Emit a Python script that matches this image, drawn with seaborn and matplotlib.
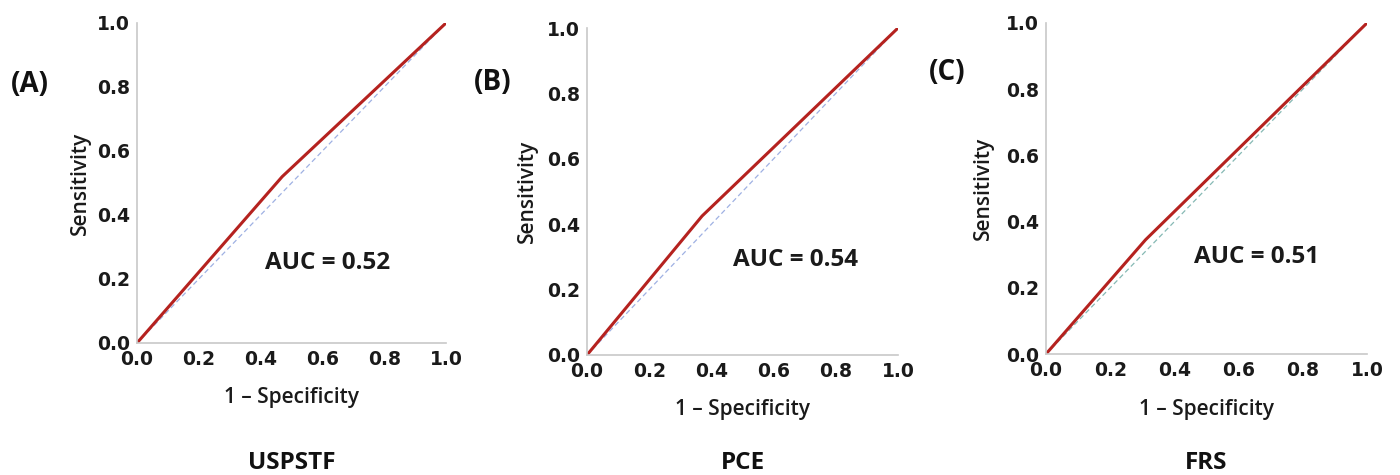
import matplotlib
matplotlib.use("Agg")
import matplotlib.pyplot as plt
import seaborn as sns
import pandas as pd

sns.set_theme(style="white")
plt.rcParams['font.family'] = ['DejaVu Sans']

# ---- data ----
panels = ["(A)", "(B)", "(C)"]
models = ["USPSTF", "PCE", "FRS"]
auc_labels = ["AUC = 0.52", "AUC = 0.54", "AUC = 0.51"]
fpr_uspstf = [0.0, 0.47, 1.0]
tpr_uspstf = [0.0, 0.52, 1.0]
fpr_pce = [0.0, 0.37, 1.0]
tpr_pce = [0.0, 0.425, 1.0]
fpr_frs = [0.0, 0.31, 1.0]
tpr_frs = [0.0, 0.345, 1.0]
ref_line = [0.0, 1.0]
ticks = [0.0, 0.2, 0.4, 0.6, 0.8, 1.0]
tick_labels = ["0.0", "0.2", "0.4", "0.6", "0.8", "1.0"]

curves = [(fpr_uspstf, tpr_uspstf), (fpr_pce, tpr_pce), (fpr_frs, tpr_frs)]

# ---- layout ----
W, H = 1400, 475
fig = plt.figure(figsize=(14, 4.75), dpi=100)
ax_px = [(137, 23, 446, 343), (587, 28, 898, 355), (1046, 23, 1367, 354)]
diag_colors = ["#9fb1e3", "#9fb1e3", "#86b9b4"]
auc_pos = [(0.617, 0.25), (0.67, 0.29), (0.657, 0.293)]
panel_pos = [(11, 84), (474, 82), (929, 72)]
title_y = 463
xlabel_y = [397, 410, 410]
ylabel_x = [80, 527, 983]

for i in range(3):
    l, t, r, b = ax_px[i]
    ax = fig.add_axes([l / W, 1 - b / H, (r - l) / W, (b - t) / H])
    fx, ty = curves[i]
    sns.lineplot(x=ref_line, y=ref_line, ax=ax, color=diag_colors[i],
                 linewidth=0.9, linestyle=(0, (4, 2.5)), estimator=None, sort=False)
    sns.lineplot(x=fx, y=ty, ax=ax, color="#b5221f", linewidth=2.2,
                 estimator=None, sort=False)
    ax.set_xlim(0, 1)
    ax.set_ylim(0, 1)
    ax.set_xticks(ticks)
    ax.set_yticks(ticks)
    ax.set_xticklabels(tick_labels, fontsize=13.5, fontweight="bold", color="#1a1a1a")
    ax.set_yticklabels(tick_labels, fontsize=13.5, fontweight="bold", color="#1a1a1a")
    ax.tick_params(axis="both", length=0)
    ax.tick_params(axis="x", pad=5)
    ax.tick_params(axis="y", pad=5)
    for s in ["top", "right"]:
        ax.spines[s].set_visible(False)
    for s in ["left", "bottom"]:
        ax.spines[s].set_color("#c8c8c8")
        ax.spines[s].set_linewidth(1.2)
    ax.set_xlabel("")
    ax.set_ylabel("")
    ax.text(auc_pos[i][0], auc_pos[i][1], auc_labels[i], transform=ax.transAxes,
            ha="center", va="center", fontsize=17.5, fontweight="bold",
            family="Open Sans", color="#1a1a1a")
    cx = (l + r) / 2
    fig.text(cx / W, 1 - xlabel_y[i] / H, "1 \u2013 Specificity", ha="center", va="center",
             fontsize=15, color="#1a1a1a", family="Open Sans", fontweight="semibold")
    fig.text(ylabel_x[i] / W, 1 - ((t + b) / 2) / H, "Sensitivity", ha="center", va="center",
             rotation=90, fontsize=15, color="#1a1a1a", family="Open Sans", fontweight="semibold")
    fig.text(panel_pos[i][0] / W, 1 - panel_pos[i][1] / H, panels[i], ha="left", va="center",
             fontsize=20, fontweight="bold", family="Open Sans", color="#111111")
    fig.text(cx / W, 1 - title_y / H, models[i], ha="center", va="center",
             fontsize=17.5, fontweight="bold", family="Open Sans", color="#111111")

fig.savefig("out.png", dpi=100, facecolor="white")
